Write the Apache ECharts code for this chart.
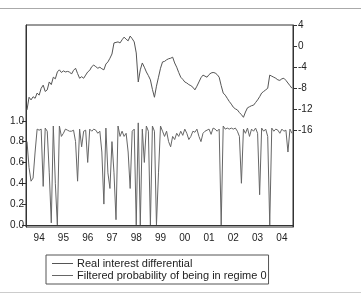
<!DOCTYPE html>
<html>
<head>
<meta charset="utf-8">
<script src="https://cdn.jsdelivr.net/npm/echarts@6/dist/echarts.min.js"></script>
<style>
  html, body { margin: 0; padding: 0; background: #fff; }
  #chart { width: 361px; height: 298px; }
</style>
</head>
<body>
<div id="chart"></div>
<script>
// monthly sample 1994M01 - 2004M12
const years = [1994, 1995, 1996, 1997, 1998, 1999, 2000, 2001, 2002, 2003, 2004];
const months = [];
years.forEach(function (y) {
  for (let m = 1; m <= 12; m++) months.push(y + "M" + (m < 10 ? "0" + m : m));
});

// real interest differential (right axis)
const realDiff = [
  -12.1, -9.7, -10.2, -9.6, -9.9, -8.9, -9.3, -8.0, -7.4, -8.6, -8.3, -6.8,
  -7.3, -5.9, -6.2, -4.9, -4.5, -5.0, -4.7, -4.9, -4.8, -4.9, -5.3, -4.6,
  -4.2, -5.2, -6.1, -5.8, -6.1, -5.5, -4.9, -4.6, -3.9, -3.6, -3.9, -4.2,
  -4.0, -4.3, -4.5, -3.4, -3.0, -2.3, -1.5, 0.6, 0.7, 0.8, 0.6, 1.2,
  1.7, 1.3, 1.0, 1.9, 1.4, 0.8, -1.3, -6.8, -4.5, -3.2, -4.0, -4.9,
  -5.6, -6.4, -8.2, -9.7, -7.6, -5.9, -4.2, -3.0, -2.9, -2.6, -2.4, -2.3,
  -2.1, -3.2, -4.0, -5.0, -5.9, -6.3, -6.8, -7.0, -7.3, -7.5, -7.8, -8.3,
  -7.6, -6.8, -6.0, -5.5, -5.7, -5.9, -5.4, -5.1, -5.0, -5.1, -5.4, -5.9,
  -7.5, -8.9, -9.3, -9.9, -10.5, -11.0, -11.6, -11.9, -12.1, -12.6, -13.0, -13.5,
  -12.5, -11.7, -11.5, -11.3, -11.2, -10.7, -10.2, -9.6, -8.9, -8.6, -8.3, -8.0,
  -5.5, -5.7, -5.9, -6.1, -6.4, -6.5, -6.2, -6.1, -6.5, -7.0, -7.5, -8.0
];

// filtered probability of regime 0 (left axis)
const probRegime0 = [
  0.80, 0.55, 0.42, 0.45, 0.70, 0.92, 0.91, 0.92, 0.37, 0.93, 0.90, 0.50,
  0.02, 0.95, 0.40, 0.00, 0.95, 0.85, 0.88, 0.92, 0.91, 0.90, 0.90, 0.91,
  0.80, 0.42, 0.92, 0.75, 0.90, 0.91, 0.60, 0.92, 0.90, 0.92, 0.91, 0.88,
  0.90, 0.70, 0.20, 0.93, 0.50, 0.35, 0.80, 0.50, 0.05, 0.95, 0.85, 0.90,
  0.85, 0.88, 0.70, 0.35, 0.90, 0.92, 0.00, 0.98, 0.00, 0.92, 0.60, 0.95,
  0.90, 0.00, 0.95, 0.90, 0.00, 0.50, 0.95, 0.90, 0.85, 0.90, 0.80, 0.75,
  0.85, 0.82, 0.88, 0.85, 0.90, 0.86, 0.92, 0.88, 0.82, 0.85, 0.90, 0.89,
  0.92, 0.85, 0.80, 0.88, 0.90, 0.91, 0.92, 0.87, 0.93, 0.92, 0.90, 0.92,
  0.00, 0.95, 0.92, 0.93, 0.92, 0.93, 0.92, 0.93, 0.90, 0.85, 0.40, 0.92,
  0.88, 0.93, 0.85, 0.92, 0.90, 0.93, 0.88, 0.29, 0.93, 0.90, 0.92, 0.85,
  0.00, 0.93, 0.90, 0.92, 0.91, 0.88, 0.92, 0.90, 0.91, 0.70, 0.92, 0.88
];

const leftTicks = [0, 0.2, 0.4, 0.6, 0.8, 1.0];
const rightTicks = [4, 0, -4, -8, -12, -16];

const chart = echarts.init(document.getElementById("chart"));
const fontFamily = "'Liberation Sans', Arial, sans-serif";
// plain line sample for the legend
const lineIcon = "path://M0,0 L21,0 L21,1 L0,1 Z";

const option = {
  animation: false,
  backgroundColor: "#fff",
  textStyle: { fontFamily: fontFamily },
  graphic: [
    { type: "line", shape: { x1: 0, y1: 8.5, x2: 361, y2: 8.5 }, style: { stroke: "#aaa", lineWidth: 1 } },
    { type: "line", shape: { x1: 0, y1: 292.5, x2: 361, y2: 292.5 }, style: { stroke: "#ccc", lineWidth: 1 } }
  ],
  grid: {
    left: 26,
    right: 68,
    top: 25,
    bottom: 71,
    show: true,
    borderColor: "#333",
    borderWidth: 1,
    backgroundColor: "transparent"
  },
  legend: {
    orient: "vertical",
    left: 46,
    top: 255,
    padding: [3, 2, 3, 6],
    itemGap: 1,
    itemWidth: 21,
    itemHeight: 1,
    borderColor: "#555",
    borderWidth: 1,
    textStyle: { fontSize: 11, color: "#222", fontFamily: fontFamily, padding: [0, 0, 0, -1] },
    data: [
      { name: "Real interest differential", icon: lineIcon },
      { name: "Filtered probability of being in regime 0", icon: lineIcon }
    ]
  },
  xAxis: {
    type: "category",
    data: months,
    boundaryGap: true,
    axisLine: { lineStyle: { color: "#333" } },
    axisTick: {
      inside: true,
      length: 3,
      interval: function (i) { return i % 12 === 0; },
      lineStyle: { color: "#333" }
    },
    axisLabel: {
      interval: function (i) { return i % 12 === 6; },
      formatter: function (v) { return v.slice(2, 4); },
      color: "#222",
      fontSize: 10,
      margin: 6
    },
    splitLine: { show: false }
  },
  yAxis: [
    {
      type: "value",
      position: "left",
      min: -0.02,
      max: 1.92,
      axisLine: { show: true, lineStyle: { color: "#333" } },
      axisTick: { show: true, length: 4, customValues: leftTicks, lineStyle: { color: "#333" } },
      axisLabel: {
        customValues: leftTicks,
        formatter: function (v) { return v.toFixed(1); },
        color: "#222",
        fontSize: 10,
        margin: 2
      },
      splitLine: { show: false }
    },
    {
      type: "value",
      position: "right",
      min: -34.3,
      max: 4,
      axisLine: { show: true, lineStyle: { color: "#333" } },
      axisTick: { show: true, length: 4, customValues: rightTicks, lineStyle: { color: "#333" } },
      axisLabel: {
        customValues: rightTicks,
        color: "#222",
        fontSize: 10,
        margin: 5
      },
      splitLine: { show: false }
    }
  ],
  series: [
    {
      name: "Real interest differential",
      type: "line",
      yAxisIndex: 1,
      data: realDiff,
      symbol: "none",
      lineStyle: { color: "#555", width: 1 },
      itemStyle: { color: "#555" }
    },
    {
      name: "Filtered probability of being in regime 0",
      type: "line",
      yAxisIndex: 0,
      data: probRegime0,
      symbol: "none",
      lineStyle: { color: "#666", width: 1 },
      itemStyle: { color: "#666" }
    }
  ]
};

chart.setOption(option);
</script>
</body>
</html>
